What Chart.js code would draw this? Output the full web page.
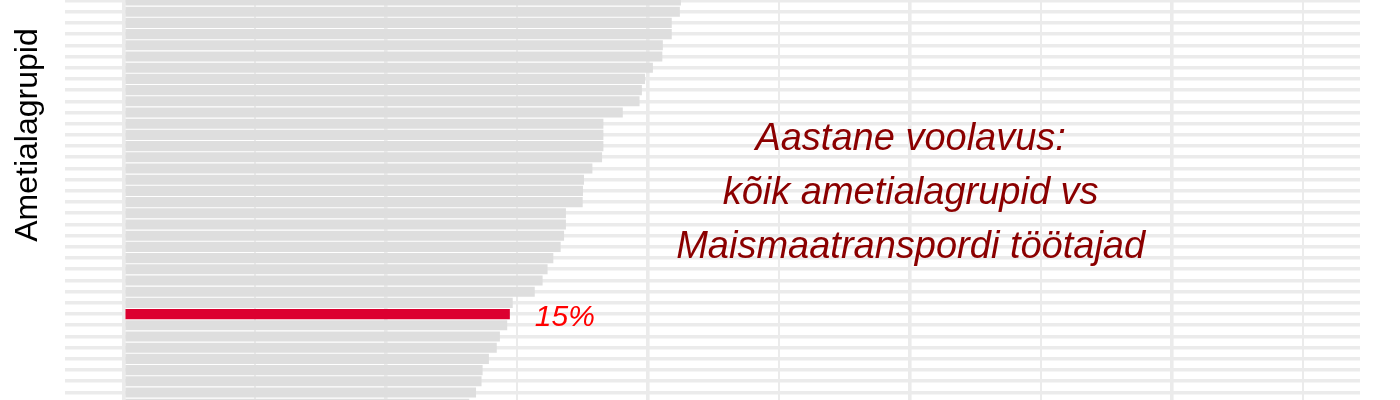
<!DOCTYPE html>
<html>
<head>
<meta charset="utf-8">
<script src="https://cdn.jsdelivr.net/npm/chart.js@4"></script>
<style>
  html, body { margin: 0; padding: 0; background: #fff; overflow: hidden; }
  #wrap { position: absolute; left: 0; top: -10px; width: 1400px; height: 430px; }
</style>
</head>
<body>
<div id="wrap"><canvas id="chart" width="1400" height="430"></canvas></div>
<script>
// visible part of the occupation-group ranking (sorted, top and bottom cut off)
var groups = [
  'Grupp 01', 'Grupp 02', 'Grupp 03', 'Grupp 04', 'Grupp 05', 'Grupp 06',
  'Grupp 07', 'Grupp 08', 'Grupp 09', 'Grupp 10', 'Grupp 11', 'Grupp 12',
  'Grupp 13', 'Grupp 14', 'Grupp 15', 'Grupp 16', 'Grupp 17', 'Grupp 18',
  'Grupp 19', 'Grupp 20', 'Grupp 21', 'Grupp 22', 'Grupp 23', 'Grupp 24',
  'Grupp 25', 'Grupp 26', 'Grupp 27', 'Grupp 28',
  'Maismaatranspordi töötajad',
  'Grupp 30', 'Grupp 31', 'Grupp 32', 'Grupp 33', 'Grupp 34', 'Grupp 35',
  'Grupp 36', 'Grupp 37'
];
// annual turnover, %
var turnover = [
  21.27, 21.23, 20.92, 20.92, 20.58, 20.56, 20.20, 19.90, 19.78, 19.69,
  19.05, 18.31, 18.31, 18.31, 18.26, 17.89, 17.57, 17.53, 17.52, 16.88,
  16.88, 16.81, 16.68, 16.40, 16.18, 15.99, 15.69, 14.85, 14.74, 14.64,
  14.36, 14.24, 13.94, 13.70, 13.66, 13.45, 13.19
];
var highlight = 'Maismaatranspordi töötajad';
var xTicks = [0, 5, 10, 15, 20, 25, 30, 35, 40, 45];
var titleLines = ['Aastane voolavus:', 'kõik ametialagrupid vs', 'Maismaatranspordi töötajad'];
var axisTitle = 'Ametialagrupid';

var barColors = groups.map(function (g) {
  return g === highlight ? '#dc0030' : '#dedede';
});

var textPlugin = {
  id: 'texts',
  afterDatasetsDraw: function (chart) {
    var c = chart.ctx;
    var xs = chart.scales.x;
    c.save();

    // axis title, rotated
    c.fillStyle = '#000';
    c.font = '32px "Liberation Sans", Arial, sans-serif';
    c.textAlign = 'center';
    c.textBaseline = 'alphabetic';
    c.translate(37, 145);
    c.rotate(-Math.PI / 2);
    c.fillText(axisTitle, 0, 0);
    c.setTransform(1, 0, 0, 1, 0, 0);

    // annotation block
    c.fillStyle = '#8b0000';
    c.font = 'italic 38px "Liberation Sans", Arial, sans-serif';
    c.textAlign = 'center';
    var cx = xs.getPixelForValue(30) + 1;
    var baselines = [160, 214, 268];
    titleLines.forEach(function (t, i) {
      c.fillText(t, cx, baselines[i]);
    });

    // value label next to the highlighted bar
    var idx = groups.indexOf(highlight);
    var bar = chart.getDatasetMeta(0).data[idx];
    c.fillStyle = '#ff0000';
    c.font = 'italic 30px "Liberation Sans", Arial, sans-serif';
    c.textAlign = 'left';
    c.fillText(Math.round(turnover[idx]) + '%', bar.x + 25, bar.y + 12);
    c.restore();
  }
};

new Chart(document.getElementById('chart'), {
  type: 'bar',
  data: {
    labels: groups,
    datasets: [{
      data: turnover,
      backgroundColor: barColors,
      borderWidth: 0,
      barPercentage: 0.9,
      categoryPercentage: 1
    }]
  },
  options: {
    indexAxis: 'y',
    responsive: false,
    animation: false,
    layout: { padding: { left: 65, right: 40, top: 4.9, bottom: 10.7 } },
    plugins: { legend: { display: false }, tooltip: { enabled: false } },
    scales: {
      x: {
        type: 'linear',
        min: -2.24,
        max: 47.19,
        afterBuildTicks: function (s) {
          s.ticks = xTicks.map(function (v) { return { value: v }; });
        },
        ticks: { display: false },
        border: { display: false },
        grid: {
          drawTicks: false,
          color: '#ebebeb',
          lineWidth: function (ctx) {
            return ctx.tick && ctx.tick.value % 10 === 0 ? 3.6 : 2;
          }
        }
      },
      y: {
        ticks: { display: false, autoSkip: false },
        border: { display: false },
        grid: { offset: false, drawTicks: false, color: '#ebebeb', lineWidth: 3.6 }
      }
    }
  },
  plugins: [textPlugin]
});
</script>
</body>
</html>
